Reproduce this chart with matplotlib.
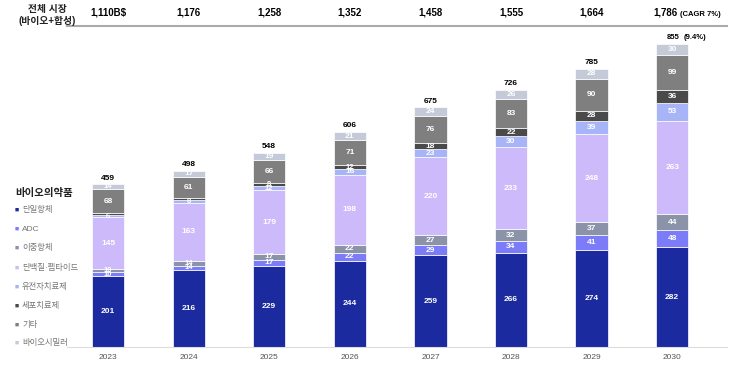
import numpy as np
import matplotlib
matplotlib.use("Agg")
import matplotlib.pyplot as plt

plt.rcParams['font.family'] = ['Liberation Sans', 'Noto Sans CJK KR', 'DejaVu Sans']

years = ['2023', '2024', '2025', '2026', '2027', '2028', '2029', '2030']
market_total = ['1,110B$', '1,176', '1,258', '1,352', '1,458', '1,555', '1,664', '1,786']
bio_total = [459, 498, 548, 606, 675, 726, 785, 855]

names = ['단일항체', 'ADC', '이중항체', '단백질·펩타이드', '유전자치료제', '세포치료제', '기타', '바이오시밀러']
mab = [201, 216, 229, 244, 259, 266, 274, 282]
adc = [10, 14, 17, 22, 29, 34, 41, 48]
bispecific = [10, 14, 17, 22, 27, 32, 37, 44]
protein = [145, 163, 179, 198, 220, 233, 248, 263]
gene = [6, 8, 12, 16, 23, 30, 39, 53]
cell = [5, 5, 8, 12, 18, 22, 28, 36]
other = [68, 61, 66, 71, 76, 83, 90, 99]
biosimilar = [14, 17, 19, 21, 24, 26, 28, 30]
series = [mab, adc, bispecific, protein, gene, cell, other, biosimilar]

colors = ['#1B2A9E', '#7C7CF8', '#8A93A8', '#CDBAFB', '#A8B4F8', '#4A4A4A', '#7F7F7F', '#C4CAD8']

W, H = 733, 382
fig = plt.figure(figsize=(W / 100, H / 100), dpi=100)

# axes: x from 67px to 727px, baseline at y=347px, top line at y=26px
ax = fig.add_axes([67 / W, (H - 347) / H, (727 - 67) / W, (347 - 26) / H])
x = np.arange(len(years))
bottom = np.zeros(len(years))
for vals, col in zip(series, colors):
    vals = np.array(vals)
    ax.bar(x, vals, 0.40, bottom=bottom, color=col, edgecolor='white', linewidth=0.5)
    for xi, b, v in zip(x, bottom, vals):
        if v >= 6:
            fs = 6 if v >= 15 else 5.5
            ax.text(xi, b + v / 2, str(v), ha='center', va='center', color='white',
                    fontsize=fs, fontweight='bold')
    bottom += vals

last = len(years) - 1
for xi, t in zip(x, bio_total):
    if xi == last:
        ax.text(xi - 0.07, t + 8, str(t), ha='left', va='bottom', fontsize=5.5, fontweight='bold')
        ax.text(xi + 0.14, t + 8, '(9.4%)', ha='left', va='bottom', fontsize=5.5, fontweight='bold')
    else:
        ax.text(xi, t + 8, str(t), ha='center', va='bottom', fontsize=6, fontweight='bold')

ax.set_xlim(-0.509, 7.68)
ax.set_ylim(0, 906)
ax.set_xticks(x)
ax.set_xticklabels(years, fontsize=6, color='#555555')
ax.tick_params(axis='x', length=0, pad=5)
ax.set_yticks([])
for s in ['left', 'right']:
    ax.spines[s].set_visible(False)
ax.spines['top'].set_color('#AAAAAA')
ax.spines['top'].set_linewidth(1.5)
ax.spines['bottom'].set_color('#DDDDDD')
ax.spines['bottom'].set_linewidth(0.8)

# header row with total market
hdr = ax.get_xaxis_transform()
for xi, t in zip(x, market_total):
    xt = xi if xi < last else xi - 0.08
    ax.text(xt, 1.025, t, transform=hdr, ha='center', va='bottom', fontsize=7, fontweight='bold')
ax.text(7.1, 1.025, '(CAGR 7%)', transform=hdr, ha='left', va='bottom',
        fontsize=5.5, fontweight='bold')

fig.text(47 / W, 1 - 9 / H, '전체 시장', ha='center', va='center', fontsize=7, fontweight='bold',
         color='#222222')
fig.text(47 / W, 1 - 21 / H, '(바이오+합성)', ha='center', va='center', fontsize=7,
         fontweight='bold', color='#222222')

# legend
fig.text(15 / W, 1 - 193 / H, '바이오의약품', ha='left', va='center', fontsize=7.5,
         fontweight='bold', color='#222222')
leg_y = [210, 229, 248, 268, 287, 306, 325, 343]
for name, col, yy in zip(names, colors, leg_y):
    fig.text(15 / W, 1 - yy / H, '■', ha='left', va='center', fontsize=5, color=col)
    fig.text(22 / W, 1 - yy / H, name, ha='left', va='center', fontsize=6, color='#777777')

fig.savefig('out.png', dpi=100)
